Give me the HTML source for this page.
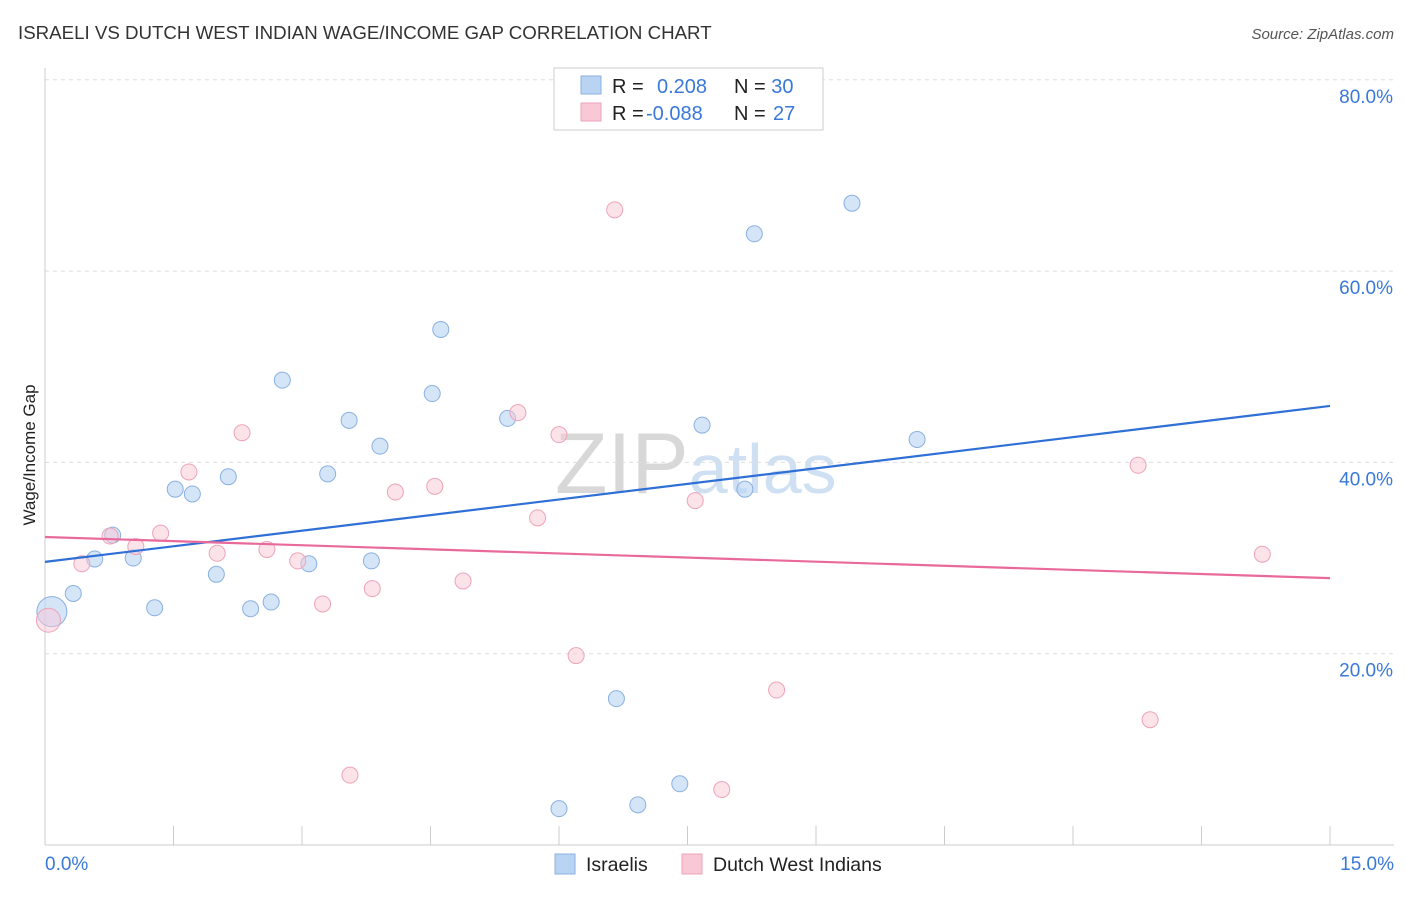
<!DOCTYPE html>
<html><head><meta charset="utf-8"><style>
body{margin:0;background:#fff;font-family:"Liberation Sans",sans-serif;}
svg text{font-family:"Liberation Sans",sans-serif;}
</style></head><body>
<svg id="c" width="1406" height="892" xmlns="http://www.w3.org/2000/svg">
<text x="18" y="39" font-size="18.7" fill="#333">ISRAELI VS DUTCH WEST INDIAN WAGE/INCOME GAP CORRELATION CHART</text>
<text x="1394" y="39" font-size="15" fill="#555" text-anchor="end" font-style="italic">Source: ZipAtlas.com</text>
<text x="35" y="455" font-size="17" fill="#222" text-anchor="middle" transform="rotate(-90 35 455)">Wage/Income Gap</text>
<text x="555" y="493" font-size="86" fill="#ddd" font-family="Liberation Serif"><tspan fill="#d8d8d8">ZIP</tspan><tspan fill="#cfe0f2" font-family="Liberation Sans" font-size="70">atlas</tspan></text>
<g id="grid"></g><g id="pts"></g><g id="lines"></g>
<g>
<rect x="554" y="68" width="269" height="62" fill="#fff" stroke="#ccc"/>
<rect x="581" y="76" width="20" height="18" fill="#b9d3f3" stroke="#8ab0e0"/>
<rect x="581" y="103" width="20" height="18" fill="#f9c8d6" stroke="#eda3b8"/>
<text x="612" y="93" font-size="20" fill="#222">R = <tspan fill="#3a78d8" x="657">0.208</tspan><tspan x="734" fill="#222">N = </tspan><tspan fill="#3a78d8">30</tspan></text>
<text x="612" y="120" font-size="20" fill="#222">R = <tspan fill="#3a78d8" x="646">-0.088</tspan><tspan x="734" fill="#222">N = </tspan><tspan fill="#3a78d8" x="773">27</tspan></text>
</g>
<g>
<rect x="555" y="854" width="20" height="20" fill="#b9d3f3" stroke="#8ab0e0"/>
<text x="586" y="871" font-size="19.5" fill="#222">Israelis</text>
<rect x="682" y="854" width="20" height="20" fill="#f9c8d6" stroke="#eda3b8"/>
<text x="713" y="871" font-size="19.5" fill="#222">Dutch West Indians</text>
</g>
</svg>
<script>
const yTicks=[20,40,60,80];
const yTickLabels=["20.0%","40.0%","60.0%","80.0%"];
const xTickLabels=["0.0%","15.0%"];
const israeliX=[0.08,0.33,0.58,0.79,1.03,1.28,1.52,1.72,2.00,2.14,2.40,2.64,2.77,3.08,3.30,3.55,3.81,3.91,4.52,4.62,5.40,6.00,6.67,6.92,7.41,7.67,8.17,8.28,9.42,10.18];
const israeliY=[24.4,26.3,29.9,32.4,30.0,24.8,37.2,36.7,28.3,38.5,24.7,25.4,48.6,29.4,38.8,44.4,29.7,41.7,47.2,53.9,44.6,3.8,15.3,4.2,6.4,43.9,37.2,63.9,67.1,42.4];
const dutchX=[0.04,0.43,0.76,1.06,1.35,1.68,2.01,2.30,2.59,2.95,3.24,3.56,3.82,4.09,4.55,4.88,5.52,5.75,6.00,6.20,6.65,7.59,7.90,8.54,12.76,12.90,14.21];
const dutchY=[23.5,29.4,32.3,31.2,32.6,39.0,30.5,43.1,30.9,29.7,25.2,7.3,26.8,36.9,37.5,27.6,45.2,34.2,42.9,19.8,66.4,36.0,5.8,16.2,39.7,13.1,30.4];
const israeliTrend=[29.6,45.9];
const dutchTrend=[32.2,27.9];
const NS="http://www.w3.org/2000/svg";
const X=v=>45+v/15*1285, Y=v=>845-v/20*191.3;
function mk(t,a,p){const e=document.createElementNS(NS,t);for(const k in a)e.setAttribute(k,a[k]);p.appendChild(e);return e;}
const grid=document.getElementById('grid');
yTicks.forEach((t,i)=>{
 const l=mk('line',{x1:45,x2:1394,y1:Y(t),y2:Y(t),stroke:'#ddd','stroke-dasharray':'4 4'},grid);
 
 
 const tx=mk('text',{x:1393,y:Y(t)+23,'font-size':19,fill:'#3a78d8','text-anchor':'end'},grid);
 tx.textContent=yTickLabels[i];
 
 
});
mk('line',{x1:45,x2:45,y1:68,y2:845,stroke:'#ccc'},grid);
mk('line',{x1:45,x2:1394,y1:845,y2:845,stroke:'#ccc'},grid);
for(let i=1;i<=10;i++){mk('line',{x1:X(i*1.5),x2:X(i*1.5),y1:826,y2:845,stroke:'#ccc'},grid);}
[[0,'start'],[15,'end']].forEach((d,i)=>{
 const tx=mk('text',{x:i?1394:45,y:870,'font-size':19,fill:'#3a78d8','text-anchor':d[1]},grid);
 tx.textContent=xTickLabels[i];
 
 
});
const pts=document.getElementById('pts');
israeliX.forEach((x,i)=>{
 const c=mk('circle',{cx:X(x),cy:Y(israeliY[i]),r:i==0?15:8,fill:'rgba(185,211,243,0.6)',stroke:'#8ab0e0','stroke-width':1},pts);
 
 
});
dutchX.forEach((x,i)=>{
 const c=mk('circle',{cx:X(x),cy:Y(dutchY[i]),r:i==0?12:8,fill:'rgba(249,200,214,0.5)',stroke:'#eda3b8','stroke-width':1},pts);
 
 
});
const ln=document.getElementById('lines');
const a=mk('line',{x1:X(0),x2:X(15),y1:Y(israeliTrend[0]),y2:Y(israeliTrend[1]),stroke:'#2f6fd6','stroke-width':2.2},ln);


const b=mk('line',{x1:X(0),x2:X(15),y1:Y(dutchTrend[0]),y2:Y(dutchTrend[1]),stroke:'#e8699a','stroke-width':2.2},ln);


</script>
</body></html>
